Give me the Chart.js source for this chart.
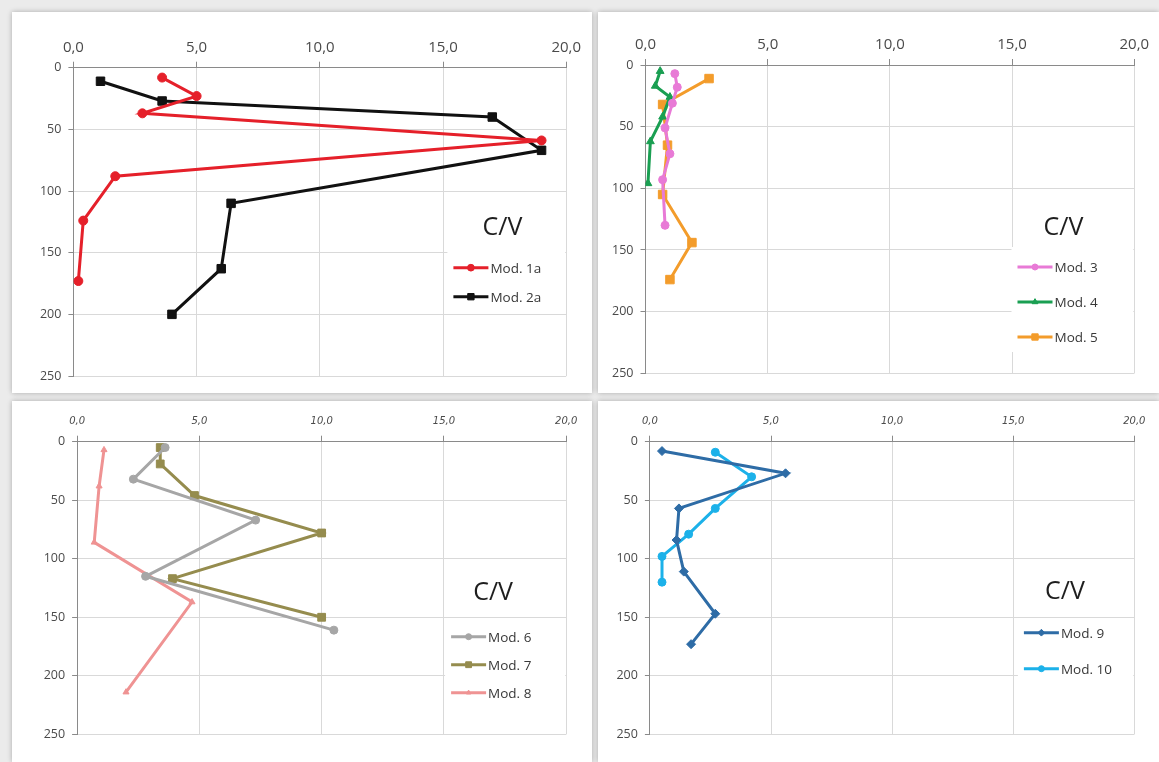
<!DOCTYPE html>
<html>
<head>
<meta charset="utf-8">
<script src="https://cdn.jsdelivr.net/npm/chart.js@4.4.1/dist/chart.umd.min.js"></script>
<style>
  body { margin: 0; width: 1159px; height: 762px; background: #ebebeb; position: relative; overflow: hidden; }
  .panel { position: absolute; background: #fff; box-shadow: 0 0 5px rgba(0, 0, 0, 0.28); }
  .panel canvas { position: absolute; left: 0; top: 0; }
</style>
</head>
<body>
<div class="panel" style="left:12px;top:12px;width:580px;height:381px"><canvas id="c1" width="580" height="381"></canvas></div>
<div class="panel" style="left:598px;top:12px;width:561px;height:381px"><canvas id="c2" width="561" height="381"></canvas></div>
<div class="panel" style="left:12px;top:401px;width:580px;height:361px"><canvas id="c3" width="580" height="361"></canvas></div>
<div class="panel" style="left:598px;top:401px;width:561px;height:361px"><canvas id="c4" width="561" height="361"></canvas></div>
<script>
// depth (y, reversed) and C/V value (x) for every model
const depth1a = [8, 23, 37, 59, 88, 124, 173];
const mod1a = [3.6, 5.0, 2.8, 19.0, 1.7, 0.4, 0.2];
const depth2a = [11, 27, 40, 67, 110, 163, 200];
const mod2a = [1.1, 3.6, 17.0, 19.0, 6.4, 6.0, 4.0];

const depth3 = [7, 18, 31, 51, 72, 93, 130];
const mod3 = [1.2, 1.3, 1.1, 0.8, 1.0, 0.7, 0.8];
const depth4 = [5, 17, 26, 42, 62, 96];
const mod4 = [0.6, 0.4, 1.0, 0.7, 0.2, 0.1];
const depth5 = [11, 32, 65, 105, 144, 174];
const mod5 = [2.6, 0.7, 0.9, 0.7, 1.9, 1.0];

const depth6 = [5, 32, 67, 115, 161];
const mod6 = [3.6, 2.3, 7.3, 2.8, 10.5];
const depth7 = [5, 19, 46, 78, 117, 150];
const mod7 = [3.4, 3.4, 4.8, 10.0, 3.9, 10.0];
const depth8 = [7, 38, 86, 137, 214];
const mod8 = [1.1, 0.9, 0.7, 4.7, 2.0];

const depth9 = [8, 27, 57, 84, 111, 147, 173];
const mod9 = [0.5, 5.6, 1.2, 1.1, 1.4, 2.7, 1.7];
const depth10 = [9, 30, 57, 79, 98, 120];
const mod10 = [2.7, 4.2, 2.7, 1.6, 0.5, 0.5];

const xTicks = [0, 5, 10, 15, 20];
const yTicks = [0, 50, 100, 150, 200, 250];
const legendTitle = 'C/V';

function points(xs, ys) {
  return xs.map((v, i) => ({ x: v, y: ys[i] }));
}

function series(label, xs, ys, color, style, radius) {
  return {
    label: label,
    data: points(xs, ys),
    showLine: true,
    borderColor: color,
    backgroundColor: color,
    pointBackgroundColor: color,
    pointBorderColor: color,
    borderWidth: 3,
    pointStyle: style,
    pointRadius: radius,
    pointBorderWidth: 1,
  };
}

const cvLegend = {
  id: 'cvLegend',
  beforeDatasetsDraw(chart, args, opts) {
    const { ctx, chartArea } = chart;
    const x0 = chartArea.left + opts.lx;
    const y0 = chartArea.top + opts.ey;
    const n = chart.data.datasets.length;
    ctx.save();
    ctx.fillStyle = '#fff';
    ctx.fillRect(x0 - 6, y0 - opts.boxTop, chartArea.right - 1 - (x0 - 6), (n - 1) * opts.gap + opts.boxTop + 15);
    ctx.fillStyle = '#1e1e1e';
    ctx.font = '25px "Open Sans"';
    ctx.textAlign = 'center';
    ctx.textBaseline = 'middle';
    ctx.fillText(legendTitle, chartArea.left + opts.cx, chartArea.top + opts.ty);
    chart.data.datasets.forEach((ds, i) => {
      const y = y0 + i * opts.gap;
      ctx.strokeStyle = ds.borderColor;
      ctx.lineWidth = ds.borderWidth;
      ctx.beginPath();
      ctx.moveTo(x0, y);
      ctx.lineTo(x0 + 35, y);
      ctx.stroke();
      ctx.fillStyle = ds.pointBackgroundColor;
      ctx.lineWidth = 1;
      Chart.helpers.drawPoint(ctx, { pointStyle: ds.pointStyle, radius: ds.pointRadius * 0.75, borderWidth: 1, rotation: 0 }, x0 + 17.5, y);
      ctx.fillStyle = '#383838';
      ctx.font = '13.5px "Open Sans"';
      ctx.textAlign = 'left';
      ctx.fillText(ds.label, x0 + 37, y + 1);
    });
    ctx.restore();
  },
};

function makeOptions(cfg) {
  return {
    responsive: false,
    animation: false,
    layout: { padding: cfg.pad },
    plugins: {
      legend: { display: false },
      tooltip: { enabled: false },
      cvLegend: cfg.legend,
    },
    scales: {
      x: {
        type: 'linear',
        position: 'top',
        min: xTicks[0],
        max: xTicks[xTicks.length - 1],
        afterBuildTicks: (s) => { s.ticks = xTicks.map((v) => ({ value: v })); },
        afterFit: (s) => { s.height = 28; },
        ticks: {
          color: '#4a4a4a',
          font: cfg.xFont,
          padding: cfg.xPad,
          maxRotation: 0,
          callback: (v) => v.toFixed(1).replace('.', ','),
        },
        grid: { color: '#d9d9d9', tickColor: '#8a8a8a', tickLength: 6 },
        border: { color: '#8a8a8a' },
      },
      y: {
        type: 'linear',
        reverse: true,
        min: yTicks[0],
        max: yTicks[yTicks.length - 1],
        afterBuildTicks: (s) => { s.ticks = yTicks.map((v) => ({ value: v })); },
        afterFit: (s) => { s.width = 40; },
        ticks: {
          color: '#4a4a4a',
          font: { family: '"Open Sans"', size: 12.5 },
          padding: 7,
        },
        grid: { color: '#d9d9d9', tickColor: '#8a8a8a', tickLength: 5 },
        border: { color: '#8a8a8a' },
      },
    },
  };
}

const topFont = { family: '"Open Sans"', size: 15 };
const bottomFont = { family: '"DejaVu Sans"', size: 10, style: 'italic' };

new Chart(document.getElementById('c1'), {
  type: 'scatter',
  data: {
    datasets: [
      series('Mod. 1a', mod1a, depth1a, '#e5202a', 'circle', 4.5),
      series('Mod. 2a', mod2a, depth2a, '#111111', 'rect', 6),
    ],
  },
  options: makeOptions({
    pad: { left: 21.4, top: 27.7, right: 25.8, bottom: 17 },
    xFont: topFont,
    xPad: 5,
    legend: { lx: 380, cx: 429, ty: 160, ey: 200, gap: 29, boxTop: 17 },
  }),
  plugins: [cvLegend],
});

new Chart(document.getElementById('c2'), {
  type: 'scatter',
  data: {
    datasets: [
      series('Mod. 3', mod3, depth3, '#e87ad6', 'circle', 4),
      series('Mod. 4', mod4, depth4, '#1a9f52', 'triangle', 4.5),
      series('Mod. 5', mod5, depth5, '#f39c2b', 'rect', 6),
    ],
  },
  options: makeOptions({
    pad: { left: 7.5, top: 25, right: 24.7, bottom: 19.7 },
    xFont: topFont,
    xPad: 5,
    legend: { lx: 372, cx: 418, ty: 163, ey: 202, gap: 35, boxTop: 20 },
  }),
  plugins: [cvLegend],
});

new Chart(document.getElementById('c3'), {
  type: 'scatter',
  data: {
    datasets: [
      series('Mod. 6', mod6, depth6, '#a6a6a6', 'circle', 4),
      series('Mod. 7', mod7, depth7, '#958c4e', 'rect', 5.5),
      series('Mod. 8', mod8, depth8, '#ef9393', 'triangle', 3.5),
    ],
  },
  options: makeOptions({
    pad: { left: 25.1, top: 12.7, right: 25.8, bottom: 27.7 },
    xFont: bottomFont,
    xPad: 8,
    legend: { lx: 374, cx: 416, ty: 151, ey: 195, gap: 28, boxTop: 17 },
  }),
  plugins: [cvLegend],
});

new Chart(document.getElementById('c4'), {
  type: 'scatter',
  data: {
    datasets: [
      series('Mod. 9', mod9, depth9, '#2e6ca6', 'rectRot', 4.5),
      series('Mod. 10', mod10, depth10, '#1cb1e9', 'circle', 4),
    ],
  },
  options: makeOptions({
    pad: { left: 11.9, top: 12.7, right: 24.7, bottom: 27.7 },
    xFont: bottomFont,
    xPad: 8,
    legend: { lx: 374, cx: 415, ty: 150, ey: 191, gap: 36, boxTop: 14 },
  }),
  plugins: [cvLegend],
});
</script>
</body>
</html>
